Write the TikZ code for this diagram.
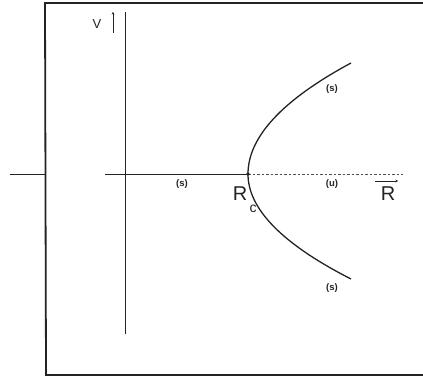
\documentclass[tikz,border=0pt]{standalone}
\usepackage{fontspec}
\setmainfont{Liberation Sans}
\usepackage{tikz}
\usetikzlibrary{arrows.meta,positioning,calc}
\definecolor{ink}{RGB}{35,35,35}

\begin{document}
\begin{tikzpicture}[x=1pt, y=-1pt, every node/.style={inner sep=0pt,text=ink}, frame/.style={draw=ink,line width=1.8pt}, axis/.style={draw=ink,line width=0.9pt}, branch/.style={draw=ink,line width=1.3pt}, unstable/.style={draw=ink!80,line width=0.7pt,dash pattern=on 2.5pt off 2pt}, small/.style={font=\fontsize{9.5}{10}\selectfont\bfseries}, big/.style={font=\fontsize{20}{22}\selectfont}, vecarrow/.style={-{Stealth[length=2.5pt,width=2.5pt]},draw=ink,line width=0.8pt}]
  \useasboundingbox (0,0) rectangle (423,379);
  % frame, open on the right
  \coordinate (ftl) at (45,3); \coordinate (fbl) at (46,375);
  \coordinate (ftr) at (423,3); \coordinate (fbr) at (423,375);
  \draw[frame] (ftr) -- (ftl) -- (fbl) -- (fbr);
  \coordinate (tick) at (10,174); \coordinate (tickend) at (46,174);
  \draw[axis] (tick) -- (tickend);
  % axes
  \coordinate (vtop) at (125,12); \coordinate (vbot) at (125,334);
  \coordinate (hleft) at (105,174); \coordinate (hright) at (403,174);
  \coordinate (rc) at (248,174);
  \draw[axis] (vtop) -- (vbot);
  \draw[axis] (hleft) -- (rc);
  \draw[unstable] (rc) -- (hright);
  % branches
  \coordinate (up) at (351,63); \coordinate (down) at (351,279);
  \draw[branch] (up) .. controls +(-68.7,37) and +(0,-37) .. (rc) .. controls +(0,35) and +(-68.7,-35) .. (down);
  \fill[ink] (rc) circle (1.9pt);
  % labels
  \node[font=\fontsize{13}{14}\selectfont] (vlab) at (97,24) {V};
  \coordinate (varrlow) at (113,33); \coordinate (varrtop) at (113,12);
  \draw[vecarrow] (varrlow) -- (varrtop);
  \node[small] (sleft) at (182,184) {(s)};
  \node[small] (uright) at (332,184) {(u)};
  \node[small] (sup) at (332,89) {(s)};
  \node[small] (sdown) at (332,288) {(s)};
  \node[big] (rclab) at (240,194) {R};
  \node[font=\fontsize{14}{15}\selectfont] (csub) at (253,209) {c};
  \node[big] (rlab) at (388,194) {R};
  \coordinate (rarrl) at (375,181); \coordinate (rarrr) at (398,181);
  \draw[vecarrow] (rarrl) -- (rarrr);
\end{tikzpicture}
\end{document}
